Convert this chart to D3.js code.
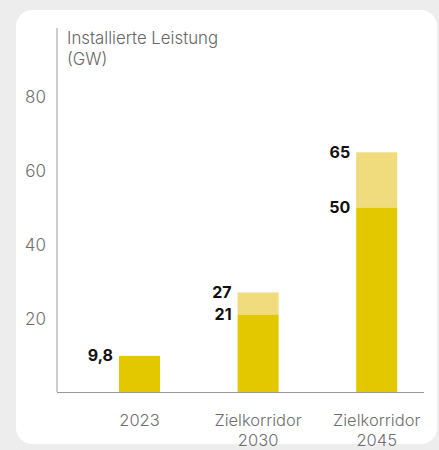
<!DOCTYPE html>
<html><head><meta charset="utf-8">
<script src="https://cdn.jsdelivr.net/npm/d3@7"></script>
<style>html,body{margin:0;padding:0;background:#ededed;}svg{display:block;}</style>
</head><body>
<svg id="c" width="439" height="450"></svg>
<script>
const categories = ["2023", "Zielkorridor 2030", "Zielkorridor 2045"];
const lowValues = [9.8, 21, 50];
const highValues = [null, 27, 65];
const lowLabels = ["9,8", "21", "50"];
const highLabels = [null, "27", "65"];
const tickValues = [20, 40, 60, 80];
const titleLines = ["Installierte Leistung", "(GW)"];

const svg = d3.select("#c");
const font = "Inter, 'Open Sans', sans-serif";
svg.append("rect").attr("x", 16).attr("y", 10).attr("width", 421).attr("height", 434)
  .attr("rx", 16).attr("fill", "#fff");

const x0 = 57, x1 = 424, yBase = 392, yTop = 28;
const y = d3.scaleLinear().domain([0, 80]).range([yBase, 97]);
const x = d3.scaleBand().domain(categories).range([80.2, 436]).paddingInner(0.654).paddingOuter(0.327);

// axis lines
svg.append("line").attr("x1", x0).attr("x2", x0).attr("y1", yTop).attr("y2", yBase)
  .attr("stroke", "#9a9a9a").attr("stroke-width", 1);
svg.append("line").attr("x1", x0).attr("x2", x1).attr("y1", yBase + 0.5).attr("y2", yBase + 0.5)
  .attr("stroke", "#9a9a9a").attr("stroke-width", 1);

// y tick labels
const yAxis = d3.axisLeft(y).tickValues(tickValues).tickSize(0).tickPadding(0);
const gy = svg.append("g").attr("transform", `translate(${46},0)`).call(yAxis);
gy.select(".domain").remove();
gy.selectAll("text").attr("font-family", font).attr("font-size", 17).attr("font-weight", 300)
  .attr("fill", "#6e6e6e").attr("dy", "0.35em");

// title
svg.append("text").attr("x", 67).attr("y", 44).attr("font-family", font).attr("font-size", 16.8)
  .attr("font-weight", 300).attr("fill", "#666").selectAll("tspan").data(titleLines).join("tspan")
  .attr("x", 67).attr("dy", (d, i) => i ? 21 : 0).text(d => d);

// bars
const data = categories.map((c, i) => ({c, low: lowValues[i], high: highValues[i], ll: lowLabels[i], hl: highLabels[i]}));
svg.selectAll("rect.hi").data(data.filter(d => d.high != null)).join("rect").attr("class", "hi")
  .attr("x", d => x(d.c)).attr("width", x.bandwidth())
  .attr("y", d => y(d.high)).attr("height", d => y(d.low) - y(d.high)).attr("fill", "#f0dc7c");
svg.selectAll("rect.lo").data(data).join("rect").attr("class", "lo")
  .attr("x", d => x(d.c)).attr("width", x.bandwidth())
  .attr("y", d => y(d.low)).attr("height", d => yBase - y(d.low)).attr("fill", "#e3c800");

// value labels
const lab = (sel, key, val) => sel.join("text").attr("x", d => x(d.c) - 6).attr("y", d => y(d[val]))
  .attr("dy", "0.35em").attr("text-anchor", "end").attr("font-family", font).attr("font-weight", 700)
  .attr("font-size", 16).attr("fill", "#111").text(d => d[key]);
lab(svg.selectAll("text.ll").data(data), "ll", "low");
lab(svg.selectAll("text.hl").data(data.filter(d => d.high != null)), "hl", "high");

// x labels
categories.forEach(c => {
  const parts = c.split(" ");
  const t = svg.append("text").attr("font-family", font).attr("font-size", 16.5).attr("font-weight", 300)
    .attr("fill", "#6e6e6e").attr("text-anchor", "middle");
  parts.forEach((p, i) => t.append("tspan").attr("x", x(c) + x.bandwidth() / 2).attr("y", 426 + i * 20).text(p));
});
</script>
</body></html>
